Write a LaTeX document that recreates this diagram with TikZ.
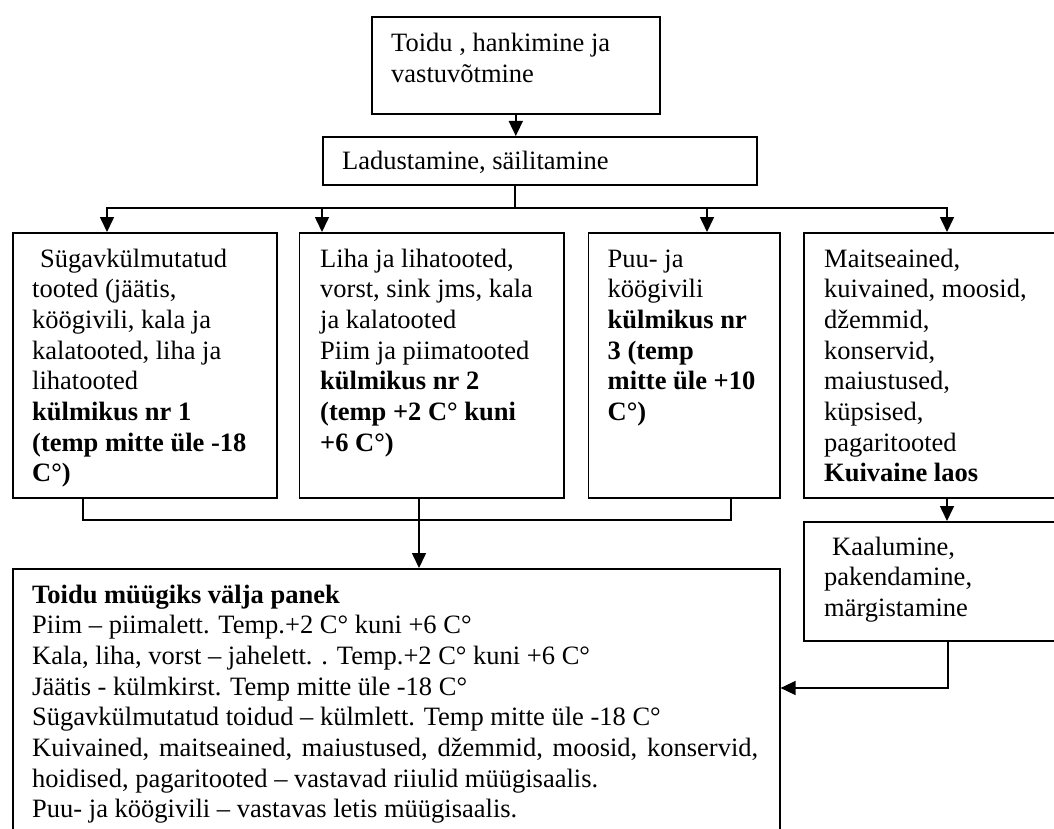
\documentclass[tikz,border=0pt]{standalone}
\usepackage{fontspec}
\setmainfont{Liberation Serif}
\usetikzlibrary{arrows.meta}
\tikzset{
  box/.style={draw=black, line width=1.6pt, inner sep=0pt, anchor=north west},
  txt/.style={inner sep=0pt, anchor=base west, font=\fontsize{26.5}{30.7}\selectfont},
  conn/.style={line width=1.6pt},
  arr/.style={line width=1.6pt, -{Triangle[width=14pt,length=15pt]}}
}
\newcommand{\lines}[2]{\parbox[t]{#1}{\raggedright #2}}
\begin{document}
\begin{tikzpicture}[x=1pt,y=-1pt]
\useasboundingbox (0,0) rectangle (1054,829);
\clip (0,0) rectangle (1054,829);
\fill[white] (0,0) rectangle (1054,829);
% boxes
\node[box, minimum width=288pt, minimum height=97pt] (top) at (371,16) {};
\node[box, minimum width=434pt, minimum height=48pt] (lad) at (322,136) {};
\node[box, minimum width=264pt, minimum height=265pt] (b1) at (12,232) {};
\node[box, minimum width=264.5pt, minimum height=265pt] (b2) at (298.5,232) {};
\node[box, minimum width=191.5pt, minimum height=265pt] (b3) at (587.5,232) {};
\node[box, minimum width=270pt, minimum height=265pt] (b4) at (803,232) {};
\node[box, minimum width=270pt, minimum height=119pt] (b5) at (803,521) {};
\node[box, minimum width=767pt, minimum height=290pt] (big) at (12,568) {};
% texts
\node[txt] (ttop) at (391,52) {\lines{300pt}{Toidu , hankimine ja\\vastuvõtmine}};
\node[txt] (tlad) at (342,170) {Ladustamine, säilitamine};
\node[txt] (t1) at (32,267) {\lines{300pt}{\hspace*{8pt}Sügavkülmutatud\\tooted (jäätis,\\köögivili, kala ja\\kalatooted, liha ja\\lihatooted\\\textbf{külmikus nr 1}\\\textbf{(temp mitte üle -18}\\\textbf{C°)}}};
\node[txt] (t2) at (320,267) {\lines{300pt}{Liha ja lihatooted,\\vorst, sink jms, kala\\ja kalatooted\\Piim ja piimatooted\\\textbf{külmikus nr 2}\\\textbf{(temp +2 C° kuni}\\\textbf{+6 C°)}}};
\node[txt] (t3) at (607.5,267) {\lines{300pt}{Puu- ja\\köögivili\\\textbf{külmikus nr}\\\textbf{3 (temp}\\\textbf{mitte üle +10}\\\textbf{C°)}}};
\node[txt] (t4) at (824,267) {\lines{300pt}{Maitseained,\\kuivained, moosid,\\džemmid,\\konservid,\\maiustused,\\küpsised,\\pagaritooted\\\textbf{Kuivaine laos}}};
\node[txt] (t5) at (824,555) {\lines{300pt}{\hspace*{8pt}Kaalumine,\\pakendamine,\\märgistamine}};
\node[txt] (tbig) at (32,603) {\lines{800pt}{\textbf{Toidu müügiks välja panek}\\Piim – piimalett. Temp.+2 C° kuni +6 C°\\Kala, liha, vorst – jahelett. . Temp.+2 C° kuni +6 C°\\Jäätis - külmkirst. Temp mitte üle -18 C°\\Sügavkülmutatud toidud – külmlett. Temp mitte üle -18 C°\\\makebox[726pt][s]{Kuivained, maitseained, maiustused, džemmid, moosid, konservid,}\\hoidised, pagaritooted – vastavad riiulid müügisaalis.\\Puu- ja köögivili – vastavas letis müügisaalis.}};
% connector points
\coordinate (hub) at (515,208);
\coordinate (a1) at (107,232);
\coordinate (a2) at (322,232);
\coordinate (a3) at (707,232);
\coordinate (a4) at (947,232);
\coordinate (j) at (419,520);
\coordinate (in) at (419,568);
\coordinate (c5) at (948,688);
% connectors
\draw[arr] (top.south) -- (top.south |- lad.north);
\draw[conn] (hub |- lad.south) -- (hub);
\draw[arr] (hub) -| (a1);
\draw[arr] (hub) -| (a2);
\draw[arr] (hub) -| (a3);
\draw[arr] (hub) -| (a4);
\draw[conn] (b1.south -| 83,0) |- (j);
\draw[conn] (b3.south -| 731,0) |- (j);
\draw[arr] (b2.south -| j) -- (in);
\draw[arr] (b4.south -| a4) -- (b5.north -| a4);
\draw[arr] (b5.south -| c5) -- (c5) -- (c5 -| big.east);
\end{tikzpicture}
\end{document}
